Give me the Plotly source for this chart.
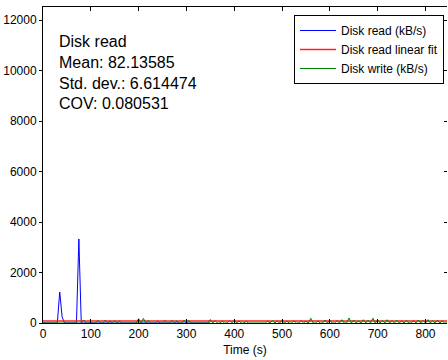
import plotly.graph_objects as go

# ---- data ----
step = 5
read_time = list(range(0, 355, step))          # 0..350 s
read_vals = [0]*len(read_time)
read_spikes = {35: 1230, 40: 240, 75: 3330}
for t, v in read_spikes.items():
    read_vals[read_time.index(t)] = v

write_time = list(range(0, 850, step))         # 0..845 s
write_vals = [0]*len(write_time)
write_bumps = {
    85: 120, 115: 100, 130: 110, 140: 80, 150: 90, 160: 80,
    200: 170, 210: 180, 220: 90, 240: 80, 255: 90, 270: 100, 280: 80,
    295: 110, 305: 90, 350: 140, 360: 80, 375: 70, 390: 90, 400: 110,
    410: 70, 425: 60, 470: 70, 480: 100, 490: 80, 500: 110, 510: 70,
    525: 80, 540: 90, 550: 70, 560: 190, 575: 80, 590: 120, 600: 110,
    615: 90, 625: 130, 640: 200, 650: 120, 660: 80, 670: 130, 680: 110,
    690: 190, 700: 120, 710: 100, 720: 130, 730: 90, 740: 110, 750: 80,
    760: 100, 775: 90, 785: 120, 795: 100, 805: 130, 815: 90, 825: 110,
    835: 80,
}
for t, v in write_bumps.items():
    write_vals[write_time.index(t)] = v

fit_time = [0, 845]
fit_vals = [82.1, 82.1]

x_ticks = list(range(0, 900, 100))
y_ticks = list(range(0, 14000, 2000))
y_tick_labels = [str(v) for v in y_ticks]
stats_lines = ["Disk read", "Mean: 82.13585", "Std. dev.: 6.614474", "COV: 0.080531"]

# ---- layout geometry (pixels) ----
W, H = 448, 360
L, R, T, B = 43, 1, 7, 37
pw, ph = W - L - R, H - T - B
def px(x): return (x - L) / pw
def py(y): return (H - B - y) / ph

FONT = "Liberation Sans, Arial, sans-serif"

fig = go.Figure()
fig.add_trace(go.Scatter(x=read_time, y=read_vals, mode="lines",
                         line=dict(color="#0000ff", width=1), name="Disk read (kB/s)"))
fig.add_trace(go.Scatter(x=fit_time, y=fit_vals, mode="lines",
                         line=dict(color="#ff2020", width=1.5), name="Disk read linear fit"))
fig.add_trace(go.Scatter(x=write_time, y=write_vals, mode="lines",
                         line=dict(color="#008000", width=1), name="Disk write (kB/s)"))
# invisible trace for the right axis
fig.add_trace(go.Scatter(x=[0], y=[0], yaxis="y2", mode="lines",
                         line=dict(width=0), showlegend=False, hoverinfo="skip"))

fig.add_annotation(x=px(57), y=py(31), xref="paper", yref="paper",
                   xanchor="left", yanchor="top", align="left", showarrow=False,
                   text="<br>".join(stats_lines),
                   font=dict(family=FONT, size=16, color="black"))

fig.update_layout(
    width=W, height=H,
    margin=dict(l=L, r=R, t=T, b=B, pad=0),
    paper_bgcolor="white", plot_bgcolor="white",
    showlegend=True,
    legend=dict(x=px(444), y=py(15), xanchor="right", yanchor="top",
                bordercolor="black", borderwidth=1, bgcolor="white",
                font=dict(family=FONT, size=12, color="black"),
                itemwidth=36, tracegroupgap=0),
    xaxis=dict(range=[0, 845], tickvals=x_ticks, ticks="inside", ticklen=4,
               tickcolor="black", showline=True, linecolor="black", linewidth=1,
               mirror="ticks", showgrid=False, zeroline=False,
               tickfont=dict(family=FONT, size=12, color="black"),
               title=dict(text="Time (s)", font=dict(family=FONT, size=12, color="black"),
                          standoff=5)),
    yaxis=dict(range=[0, 12520], tickvals=y_ticks, ticktext=y_tick_labels,
               ticks="outside", ticklen=3,
               tickcolor="black", showline=True, linecolor="black", linewidth=1,
               mirror=False, showgrid=False, zeroline=False,
               tickfont=dict(family=FONT, size=12, color="black")),
    yaxis2=dict(range=[0, 12520], tickvals=y_ticks, ticks="inside", ticklen=3,
                tickcolor="black", tickwidth=1, overlaying="y", side="right",
                showticklabels=False, showline=False, showgrid=False, zeroline=False),
)

fig.write_html("out.html", config={"displayModeBar": False},
               post_script="document.body.style.margin='0';")
